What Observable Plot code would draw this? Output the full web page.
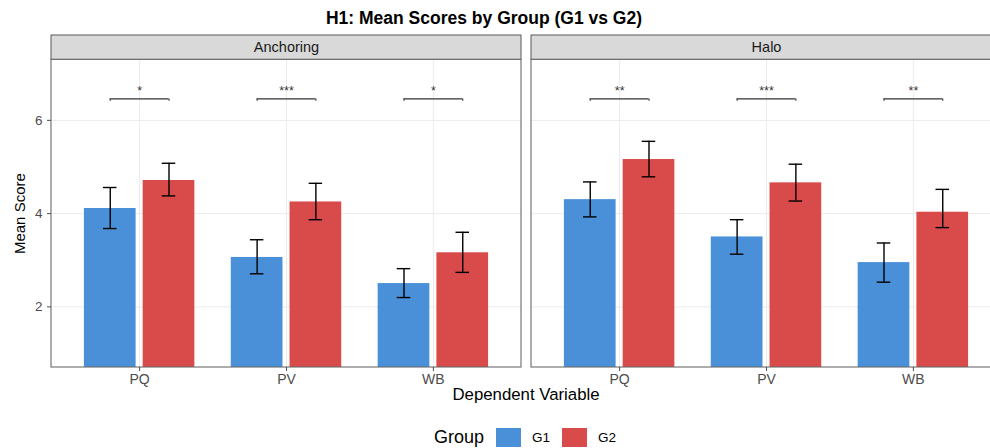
<!DOCTYPE html>
<html>
<head>
<meta charset="utf-8">
<script src="https://cdn.jsdelivr.net/npm/d3@7"></script>
<script src="https://cdn.jsdelivr.net/npm/@observablehq/plot@0.6"></script>
<style>
  html, body { margin: 0; padding: 0; background: #fff; overflow: hidden; }
  #page { width: 990px; height: 448px; overflow: hidden; position: relative;
          font-family: "Liberation Sans", Arial, Helvetica, sans-serif; color: #000; }
  #title { position: absolute; left: 0; top: 6px; width: 968px; line-height: 24px;
           text-align: center; font-weight: bold; font-size: 17.5px; }
  #chart { position: absolute; left: 0; top: 30px; width: 990px; overflow: hidden; }
  #chart svg { max-width: none !important; }
  #xlabel { position: absolute; left: 51px; width: 950px; top: 384px; line-height: 22px;
            text-align: center; font-size: 16.8px; }
  #legend { position: absolute; left: 56px; width: 950px; top: 425px; height: 24px;
            display: flex; justify-content: center; align-items: center; }
  #legend .ttl { font-size: 18px; margin-right: 12px; }
  #legend .sw { width: 25px; height: 19px; margin-right: 11px; }
  #legend .lab { font-size: 13.5px; margin-right: 12px; }
</style>
</head>
<body>
<div id="page">
<div id="title">H1: Mean Scores by Group (G1 vs G2)</div>
<div id="chart"></div>
<div id="xlabel">Dependent Variable</div>
<div id="legend"></div>
</div>
<script>
// ---- data ----
const panels = ["Anchoring", "Halo"];
const categories = ["PQ", "PV", "WB"];
const groups = ["G1", "G2"];
const groupColors = ["#4A90D9", "#D94A4A"];

const anchoringMeanG1 = [4.11, 3.06, 2.50];
const anchoringLowG1  = [3.68, 2.71, 2.20];
const anchoringHighG1 = [4.56, 3.44, 2.82];
const anchoringMeanG2 = [4.71, 4.25, 3.16];
const anchoringLowG2  = [4.38, 3.87, 2.74];
const anchoringHighG2 = [5.08, 4.65, 3.60];

const haloMeanG1 = [4.30, 3.50, 2.95];
const haloLowG1  = [3.93, 3.13, 2.53];
const haloHighG1 = [4.68, 3.87, 3.37];
const haloMeanG2 = [5.16, 4.66, 4.03];
const haloLowG2  = [4.79, 4.27, 3.70];
const haloHighG2 = [5.55, 5.06, 4.52];

const anchoringSig = ["*", "***", "*"];
const haloSig = ["**", "***", "**"];

const yTicks = [2, 4, 6];

// ---- layout constants (scale units) ----
const xDomain = [0.4, 3.6];
const yPanel = [0.7, 7.3];
const yStripTop = 7.82;
const dodge = 0.2, barHalf = 0.176, capHalf = 0.046;
const bracketY = 6.46, bracketTickY = 6.41, starY = 6.63;

// ---- build rows ----
const series = {
  Anchoring: [[anchoringMeanG1, anchoringLowG1, anchoringHighG1], [anchoringMeanG2, anchoringLowG2, anchoringHighG2]],
  Halo: [[haloMeanG1, haloLowG1, haloHighG1], [haloMeanG2, haloLowG2, haloHighG2]]
};
const sigs = {Anchoring: anchoringSig, Halo: haloSig};

const rows = [];
const sigRows = [];
for (const panel of panels) {
  categories.forEach((cat, ci) => {
    const pos = ci + 1;
    groups.forEach((g, gi) => {
      const [m, lo, hi] = series[panel][gi];
      const xc = pos + (gi === 0 ? -dodge : dodge);
      rows.push({panel, cat, group: g, mean: m[ci], lo: lo[ci], hi: hi[ci], xc});
    });
    sigRows.push({panel, pos, sig: sigs[panel][ci], x1: pos - dodge, x2: pos + dodge});
  });
}

const chart = Plot.plot({
  width: 1002,
  height: 359,
  marginTop: 5,
  marginBottom: 22,
  marginLeft: 51,
  marginRight: 0,
  style: {fontFamily: '"Liberation Sans", Arial, Helvetica, sans-serif', maxWidth: "none", background: "#fff"},
  fx: {domain: panels, padding: 0.0208, axis: null, label: null},
  x: {type: "linear", domain: xDomain, axis: null},
  y: {domain: [yPanel[0], yStripTop], axis: null},
  color: {domain: groups, range: groupColors},
  marks: [
    // grid
    Plot.ruleY(yTicks, {x1: xDomain[0], x2: xDomain[1], stroke: "#ebebeb", strokeWidth: 1}),
    Plot.ruleX([1, 2, 3], {y1: yPanel[0], y2: yPanel[1], stroke: "#ebebeb", strokeWidth: 1}),
    // bars
    Plot.rect(rows, {fx: "panel", x1: d => d.xc - barHalf, x2: d => d.xc + barHalf,
                     y1: yPanel[0], y2: "mean", fill: "group"}),
    // error bars
    Plot.ruleX(rows, {fx: "panel", x: "xc", y1: "lo", y2: "hi", stroke: "#000", strokeWidth: 1.4}),
    Plot.ruleY(rows, {fx: "panel", y: "lo", x1: d => d.xc - capHalf, x2: d => d.xc + capHalf, stroke: "#000", strokeWidth: 1.4}),
    Plot.ruleY(rows, {fx: "panel", y: "hi", x1: d => d.xc - capHalf, x2: d => d.xc + capHalf, stroke: "#000", strokeWidth: 1.4}),
    // significance brackets
    Plot.ruleY(sigRows, {fx: "panel", y: bracketY, x1: "x1", x2: "x2", stroke: "#333", strokeWidth: 1.1}),
    Plot.ruleX(sigRows, {fx: "panel", x: "x1", y1: bracketTickY, y2: bracketY, stroke: "#333", strokeWidth: 1.1}),
    Plot.ruleX(sigRows, {fx: "panel", x: "x2", y1: bracketTickY, y2: bracketY, stroke: "#333", strokeWidth: 1.1}),
    Plot.text(sigRows, {fx: "panel", x: "pos", y: starY, text: "sig", fontSize: 12.5, fill: "#333"}),
    // panel border
    Plot.rect(panels, {fx: d => d, x1: xDomain[0], x2: xDomain[1], y1: yPanel[0], y2: yPanel[1],
                       fill: "none", stroke: "#6a6a6a", strokeWidth: 1.1}),
    // strips
    Plot.rect(panels, {fx: d => d, x1: xDomain[0], x2: xDomain[1], y1: yPanel[1], y2: yStripTop,
                       fill: "#d9d9d9", stroke: "#666", strokeWidth: 1.1}),
    Plot.text(panels, {fx: d => d, x: (xDomain[0] + xDomain[1]) / 2, y: (yPanel[1] + yStripTop) / 2,
                       text: d => d, fontSize: 14.5, fill: "#1a1a1a"}),
    // axes
    Plot.axisX([1, 2, 3], {tickFormat: d => categories[d - 1], tickSize: 4, tickPadding: 3,
                           fontSize: 14, color: "#4d4d4d", label: null}),
    Plot.axisY(yTicks, {tickSize: 4, tickPadding: 5, fontSize: 13.5, color: "#4d4d4d", label: null}),
    // y title
    Plot.text([panels[0]], {fx: d => d, x: xDomain[0], y: (yPanel[0] + yPanel[1]) / 2, dx: -31,
                            rotate: -90, text: () => "Mean Score", fontSize: 15, fill: "#000"})
  ]
});
document.getElementById("chart").appendChild(chart);

// legend
const color = chart.scale("color");
const legend = d3.select("#legend");
legend.append("span").attr("class", "ttl").text("Group");
groups.forEach((g, i) => {
  legend.append("div").attr("class", "sw").style("background", color.range[i]);
  legend.append("span").attr("class", "lab").text(g);
});
</script>
</body>
</html>
